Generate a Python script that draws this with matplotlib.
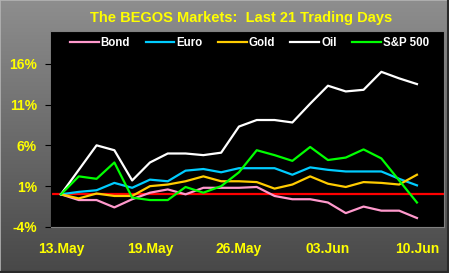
import numpy as np
import matplotlib
matplotlib.use("Agg")
from matplotlib import pyplot as plt

# trading days (only every 5th gets a label)
days = list(range(21))
tick_pos = [0, 5, 10, 15, 20]
tick_labels = ["13.May", "19.May", "26.May", "03.Jun", "10.Jun"]

bond = [0, -0.7, -0.7, -1.6, -0.6, 0.2, 0.6, 0.0, 0.8, 0.8, 0.8,
        0.9, -0.2, -0.6, -0.6, -1.0, -2.3, -1.5, -2.0, -2.0, -2.9]
euro = [0, 0.3, 0.5, 1.4, 0.8, 1.8, 1.6, 2.9, 3.1, 2.7, 3.2,
        3.2, 3.2, 2.4, 3.3, 3.0, 2.8, 2.8, 2.8, 1.9, 1.1]
gold = [0, -0.5, 0.1, -0.2, -0.2, 1.0, 1.2, 1.6, 2.2, 1.6, 1.6,
        1.5, 0.7, 1.2, 2.2, 1.3, 0.9, 1.5, 1.4, 1.2, 2.4]
oil = [0, 3.0, 6.0, 5.4, 1.7, 3.9, 5.0, 5.0, 4.8, 5.1, 8.3,
       9.1, 9.1, 8.8, 11.1, 13.3, 12.6, 12.8, 15.0, 14.2, 13.5]
spx = [0, 2.2, 1.9, 3.9, -0.4, -0.7, -0.7, 0.9, 0.2, 1.0, 2.7,
       5.4, 4.8, 4.1, 5.8, 4.2, 4.5, 5.5, 4.4, 1.7, -1.0]

names = ["Bond", "Euro", "Gold", "Oil", "S&P 500"]
colors = ["#ff99cc", "#00ccff", "#ffcc00", "#ffffff", "#00ff00"]

plt.rcParams['font.family'] = ['Liberation Sans', 'DejaVu Sans']
plt.rcParams['font.weight'] = 'bold'

fig = plt.figure(figsize=(4.49, 2.73), dpi=100)

# gray gradient background
bg = fig.add_axes([0, 0, 1, 1])
grad = np.linspace(0, 1, 256).reshape(-1, 1)
bg.imshow(grad, aspect="auto", cmap=matplotlib.colors.LinearSegmentedColormap.from_list(
    "g", ["#8e8e8e", "#484848"]), extent=[0, 1, 0, 1])
bg.set_xlim(0, 1)
bg.set_ylim(0, 1)
# thin frame: light top/left, dark right/bottom
bg.plot([0.001, 0.001, 0.999], [0.001, 0.999, 0.999], color="#b4b4b4", lw=1.2)
bg.plot([0.001, 0.998, 0.998], [0.002, 0.002, 0.999], color="#2a2a2a", lw=1.5)
bg.axis("off")

ax = fig.add_axes([51/449, 46/273, 393/449, 196/273])
ax.set_facecolor("black")

series = [bond, euro, gold, oil, spx]
ax.axhline(0, color="#ff0000", lw=1.6, zorder=1)
for vals, name, c in zip(series, names, colors):
    ax.plot(days, vals, color=c, lw=1.6, label=name, zorder=2)

ax.set_xlim(-0.56, 21.52)
ax.set_ylim(-4, 20)
ax.set_yticks([-4, 1, 6, 11, 16])
ax.set_yticklabels(["-4%", "1%", "6%", "11%", "16%"])
ax.set_xticks(tick_pos)
ax.set_xticklabels(tick_labels)
ax.tick_params(axis="y", colors="#ffff00", labelsize=10, length=4, color="black", pad=6)
ax.tick_params(axis="x", colors="#ffff00", labelsize=10, length=0, pad=11)
for s in ax.spines.values():
    s.set_color("#808080")
ax.spines["left"].set_color("black")

leg = ax.legend(loc="upper center", ncol=5, frameon=False, fontsize=8.3,
                handlelength=2.5, handletextpad=0.15, columnspacing=1.35,
                bbox_to_anchor=(0.505, 1.02))
for t in leg.get_texts():
    t.set_color("white")

fig.text(241/449, 1 - 18/273, "The BEGOS Markets:  Last 21 Trading Days",
         color="#ffff00", fontsize=10.5, fontweight="bold", ha="center", va="center")

fig.savefig("out.png", dpi=100, facecolor="#707070")
